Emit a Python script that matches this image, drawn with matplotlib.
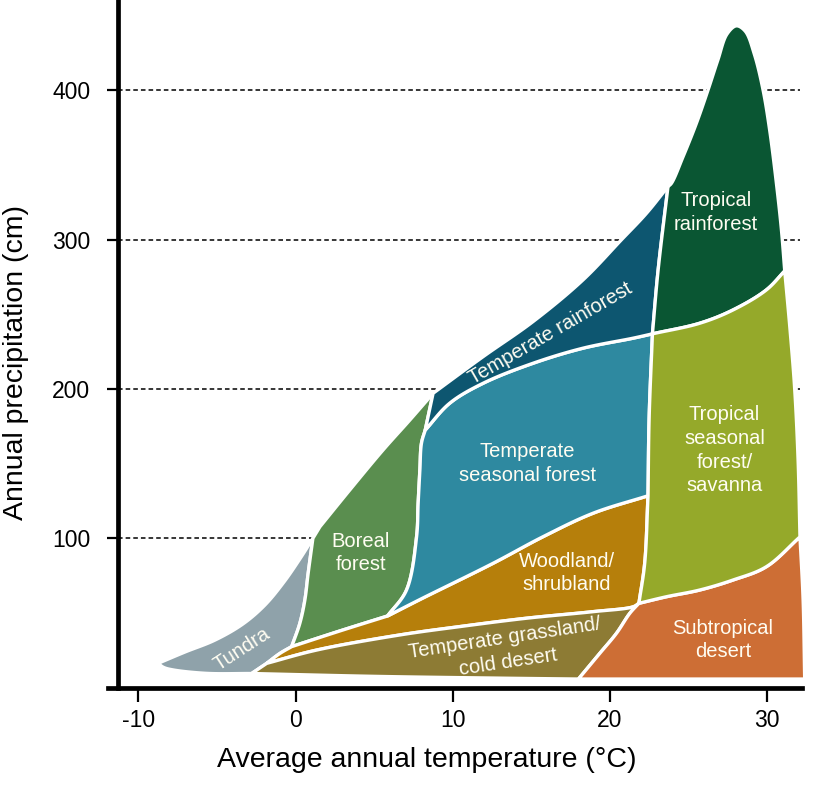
import numpy as np
import matplotlib
matplotlib.use("Agg")
import matplotlib.pyplot as plt
from matplotlib.patches import Polygon

plt.rcParams['font.family'] = ['Liberation Sans', 'DejaVu Sans']

# ---- boundary curves: (temperature °C, precipitation cm)
tundra_north = [(-8.76, 16.3), (-7.04, 23.9), (-5.13, 31.9), (-3.35, 42.7), (-1.95, 55.4),
                (-0.74, 70.8), (0.27, 86.2), (1.10, 100.0)]
tundra_south = [(-8.76, 16.3), (-8.4, 13.6), (-7.79, 11.9), (-5.66, 9.6), (-2.8, 9.5)]
tundra_east = [(-2.8, 9.5), (-1.84, 16.3)]
woodland_tip = [(-1.84, 16.3), (-0.99, 23.0), (-0.25, 27.5)]
boreal_west = [(-0.25, 27.5), (0.27, 43.1), (0.59, 58.7), (0.80, 76.6), (1.10, 100.0)]
boreal_west_top = [(1.10, 100.0), (1.55, 107.8)]
boreal_north = [(1.55, 107.8), (3.45, 132.4), (5.57, 159.2), (7.27, 179.2), (8.75, 197.1)]
trf_west = [(8.75, 197.1), (8.25, 172.5)]
tsf_west = [(8.25, 172.5), (8.01, 163.6), (7.91, 145.8), (7.80, 123.5), (7.70, 101.1),
            (7.06, 65.4), (5.85, 48.0)]
boreal_south = [(5.85, 48.0), (2.82, 38.0), (-0.25, 27.5)]
tsf_south = [(5.85, 48.0), (8.0, 59.5), (12.57, 83.3), (15.75, 101.1), (18.93, 116.8), (22.43, 128.5)]
tsf_east = [(22.43, 128.5), (22.5, 180.0), (22.71, 236.9)]
trf_south = [(8.25, 172.5), (9.8, 190.4), (11.93, 203.8), (15.11, 217.2), (18.29, 227.3),
             (21.48, 234.0), (22.71, 236.9)]
trf_north = [(8.75, 197.1), (11.93, 221.6), (15.11, 245.1), (18.29, 273.0), (20.73, 299.8),
             (22.33, 317.6), (23.7, 335.5)]
trf_east = [(23.7, 335.5), (23.07, 279.3), (22.71, 236.9)]
troprf_north = [(23.7, 335.5), (23.92, 337.7), (24.66, 355.5), (25.51, 377.9), (26.25, 400.2),
                (26.88, 420.4), (27.45, 437.5), (28.05, 443.1), (28.62, 439.5), (29.2, 424.0),
                (29.75, 400.2), (30.17, 373.4), (30.60, 337.7), (30.92, 306.5), (31.13, 279.0)]
troprf_south = [(31.13, 279.0), (29.96, 266.3), (27.84, 252.9), (25.72, 244.0), (22.71, 236.9)]
trop_east = [(31.13, 279.0), (31.47, 239.4), (31.76, 200.6), (31.98, 152.5), (32.1, 101.0)]
trop_south = [(32.1, 101.0), (29.96, 81.0), (27.84, 72.1), (25.72, 65.4), (23.6, 60.9), (21.85, 56.5)]
woodland_east = [(22.43, 128.5), (22.22, 83.5), (21.85, 56.5)]
grass_north = [(-1.84, 16.3), (1.34, 25.2), (6.63, 35.3), (10.45, 40.9), (14.69, 46.5),
               (18.93, 50.9), (21.5, 54.2), (21.85, 56.5)]
grass_east = [(18.0, 5.8), (19.36, 23.0), (20.42, 36.4), (21.27, 49.8), (21.85, 56.5)]
grass_south = [(-2.8, 9.5), (5.0, 7.6), (13.0, 6.4), (18.0, 5.8)]
desert_east = [(32.1, 101.0), (32.3, 58.7), (32.4, 5.8)]
desert_south = [(32.4, 5.8), (18.0, 5.8)]

# ---- biome names, colours, label positions
biome_names = ["Tundra", "Boreal\nforest", "Woodland/\nshrubland", "Temperate grassland/\ncold desert",
               "Subtropical\ndesert", "Temperate\nseasonal forest", "Temperate rainforest",
               "Tropical\nrainforest", "Tropical\nseasonal\nforest/\nsavanna"]
biome_colors = ["#8fa2aa", "#5a8e4f", "#b67f0b", "#8d7b34", "#cd6e35", "#2e89a0", "#0d5670",
                "#0a5633", "#95a92a"]
label_T = [-3.4, 4.16, 17.27, 13.42, 27.2, 14.77, 16.22, 26.74, 27.3]
label_P = [25.9, 90.2, 76.8, 25.2, 32.0, 150.1, 237.3, 318.4, 159.0]
label_rot = [33, 0, 0, 8.5, 0, 0, 30, 0, 0]

x_ticks = [-10, 0, 10, 20, 30]
y_ticks = [100, 200, 300, 400]

# pixel scale of the axes (used so the curve smoothing works in screen space)
SX, SY = 15.72, 1.4935


def rev(seg):
    return seg[::-1]


def smooth(seg, n=16, alpha=0.5):
    p = np.asarray(seg, float) * [SX, SY]
    if len(p) < 3:
        return p / [SX, SY]
    ext = np.vstack([2 * p[0] - p[1], p, 2 * p[-1] - p[-2]])
    out = []
    for i in range(1, len(ext) - 2):
        P0, P1, P2, P3 = ext[i - 1], ext[i], ext[i + 1], ext[i + 2]
        t0 = 0.0
        t1 = t0 + max(np.linalg.norm(P1 - P0), 1e-6) ** alpha
        t2 = t1 + max(np.linalg.norm(P2 - P1), 1e-6) ** alpha
        t3 = t2 + max(np.linalg.norm(P3 - P2), 1e-6) ** alpha
        t = np.linspace(t1, t2, n, endpoint=False)[:, None]
        A1 = (t1 - t) / (t1 - t0) * P0 + (t - t0) / (t1 - t0) * P1
        A2 = (t2 - t) / (t2 - t1) * P1 + (t - t1) / (t2 - t1) * P2
        A3 = (t3 - t) / (t3 - t2) * P2 + (t - t2) / (t3 - t2) * P3
        B1 = (t2 - t) / (t2 - t0) * A1 + (t - t0) / (t2 - t0) * A2
        B2 = (t3 - t) / (t3 - t1) * A2 + (t - t1) / (t3 - t1) * A3
        C = (t2 - t) / (t2 - t1) * B1 + (t - t1) / (t2 - t1) * B2
        out.append(C)
    out.append(p[-1:])
    return np.vstack(out) / [SX, SY]


def outline(*segs):
    return np.vstack([smooth(s) for s in segs])


shapes = [
    outline(tundra_north, rev(boreal_west), rev(woodland_tip), rev(tundra_east), rev(tundra_south)),
    outline(boreal_west, boreal_west_top, boreal_north, trf_west, tsf_west, boreal_south),
    outline(woodland_tip, rev(boreal_south), tsf_south, woodland_east, rev(grass_north)),
    outline(tundra_east, grass_north, rev(grass_east), rev(grass_south)),
    outline(rev(trop_south), desert_east, desert_south, grass_east),
    outline(tsf_south, tsf_east, rev(trf_south), tsf_west),
    outline(rev(trf_west), trf_north, trf_east, rev(trf_south)),
    outline(rev(trf_east), troprf_north, troprf_south),
    outline(rev(troprf_south), trop_east, trop_south, rev(woodland_east), tsf_east),
]

fig = plt.figure(figsize=(8.18, 7.96), dpi=100)
ax = fig.add_axes([108 / 818, (796 - 687.7) / 796, (801.7 - 108) / 818, 687.7 / 796])
ax.set_xlim(-11.94, 32.21)
ax.set_ylim(0, 460.4)

for y in y_ticks:
    ax.plot([-11.3, 32.1], [y, y], color='black', lw=1.1, ls=(0, (3, 2)), zorder=1)

for verts, col in zip(shapes, biome_colors):
    ax.add_patch(Polygon(verts, closed=True, facecolor=col, edgecolor='white', lw=2.4,
                         joinstyle='round', zorder=2, clip_on=False))

for name, tx, py, rot in zip(biome_names, label_T, label_P, label_rot):
    ax.text(tx, py, name, color='#fffdf2', fontsize=14.5, ha='center', va='center',
            multialignment='center', rotation=rot, rotation_mode='anchor', zorder=3,
            linespacing=1.32)

for s in ['top', 'right']:
    ax.spines[s].set_visible(False)
ax.spines['left'].set_position(('data', -11.3))
ax.spines['left'].set_linewidth(3.4)
ax.spines['bottom'].set_linewidth(3.4)
ax.spines['left'].set_zorder(4)
ax.spines['bottom'].set_zorder(4)

ax.set_xticks(x_ticks)
ax.set_yticks(y_ticks)
ax.set_xticklabels([str(v) for v in x_ticks])
ax.set_yticklabels([str(v) for v in y_ticks])
ax.tick_params(axis='x', length=10, width=1.6, pad=5, labelsize=16.5)
ax.tick_params(axis='y', length=8, width=1.6, pad=12, labelsize=16.5)

fig.text(427 / 818, 1 - 760 / 796, "Average annual temperature (°C)", fontsize=20.5,
         ha='center', va='center')
fig.text(16 / 818, 1 - 362 / 796, "Annual precipitation (cm)", fontsize=20.5,
         ha='center', va='center', rotation=90)

fig.savefig("out.png", dpi=100)
